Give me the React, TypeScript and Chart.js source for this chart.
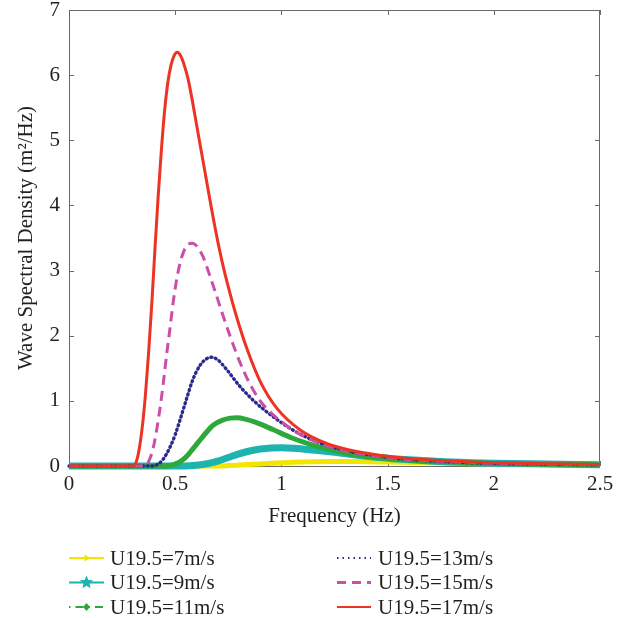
import React, { useEffect, useRef } from 'react';
import { Chart, registerables } from 'chart.js';

Chart.register(...registerables);

const FONT = '"Liberation Serif", "Times New Roman", serif';

// Frequency (Hz) / spectral density (m^2/Hz) readings for each wind speed
const f7 = [0, 0.68, 0.75, 0.85, 0.95, 1.05, 1.15, 1.25, 1.35, 1.5, 1.7, 1.9, 2.1, 2.3, 2.5];
const s7 = [0, 0, 0.006, 0.022, 0.042, 0.058, 0.067, 0.07, 0.068, 0.06, 0.048, 0.036, 0.027, 0.02, 0.015];

const f9 = [0, 0.55, 0.6, 0.65, 0.7, 0.75, 0.8, 0.85, 0.9, 0.95, 1.0, 1.06, 1.15, 1.25, 1.35, 1.46, 1.6, 1.8, 2.0, 2.25, 2.5];
const s9 = [0, 0, 0.012, 0.035, 0.075, 0.13, 0.185, 0.23, 0.26, 0.277, 0.28, 0.272, 0.245, 0.21, 0.17, 0.13, 0.095, 0.062, 0.042, 0.03, 0.02];

const f11 = [0, 0.46, 0.5, 0.53, 0.56, 0.59, 0.62, 0.65, 0.68, 0.72, 0.76, 0.79, 0.83, 0.88, 0.96, 1.05, 1.16, 1.3, 1.46, 1.6, 1.8, 2.0, 2.25, 2.5];
const s11 = [0, 0, 0.03, 0.08, 0.17, 0.29, 0.41, 0.53, 0.63, 0.7, 0.735, 0.74, 0.72, 0.67, 0.56, 0.43, 0.31, 0.2, 0.125, 0.09, 0.06, 0.04, 0.028, 0.02];

const f13 = [0, 0.39, 0.42, 0.44, 0.46, 0.48, 0.5, 0.52, 0.54, 0.56, 0.58, 0.6, 0.62, 0.645, 0.67, 0.7, 0.74, 0.8, 0.88, 0.96, 1.05, 1.16, 1.3, 1.46, 1.6, 1.8, 2.0, 2.25, 2.5];
const s13 = [0, 0, 0.03, 0.09, 0.19, 0.32, 0.48, 0.68, 0.89, 1.1, 1.3, 1.45, 1.56, 1.64, 1.67, 1.63, 1.49, 1.24, 0.97, 0.76, 0.56, 0.38, 0.24, 0.15, 0.1, 0.062, 0.04, 0.026, 0.018];

const f15 = [0, 0.355, 0.37, 0.385, 0.4, 0.415, 0.43, 0.445, 0.46, 0.475, 0.49, 0.51, 0.53, 0.55, 0.565, 0.58, 0.6, 0.63, 0.66, 0.69, 0.72, 0.76, 0.8, 0.85, 0.9, 0.95, 1.0, 1.08, 1.18, 1.3, 1.45, 1.6, 1.8, 2.0, 2.25, 2.5];
const s15 = [0, 0, 0.04, 0.15, 0.33, 0.6, 0.92, 1.3, 1.72, 2.1, 2.5, 2.92, 3.2, 3.36, 3.41, 3.42, 3.38, 3.22, 2.95, 2.66, 2.36, 1.98, 1.63, 1.27, 1.0, 0.82, 0.68, 0.5, 0.35, 0.235, 0.15, 0.1, 0.065, 0.043, 0.028, 0.019];

const f17 = [0, 0.3, 0.315, 0.33, 0.345, 0.36, 0.375, 0.39, 0.405, 0.42, 0.435, 0.45, 0.465, 0.48, 0.495, 0.51, 0.525, 0.54, 0.56, 0.58, 0.6, 0.63, 0.66, 0.69, 0.72, 0.75, 0.79, 0.84, 0.9, 0.98, 1.09, 1.21, 1.32, 1.46, 1.6, 1.8, 2.0, 2.25, 2.5];
const s17 = [0, 0, 0.05, 0.25, 0.6, 1.1, 1.75, 2.5, 3.35, 4.15, 4.85, 5.45, 5.88, 6.15, 6.3, 6.35, 6.3, 6.18, 5.95, 5.62, 5.25, 4.7, 4.15, 3.62, 3.15, 2.75, 2.28, 1.78, 1.3, 0.88, 0.55, 0.35, 0.245, 0.165, 0.115, 0.075, 0.05, 0.034, 0.024];

const labels = ['U19.5=7m/s', 'U19.5=9m/s', 'U19.5=11m/s', 'U19.5=13m/s', 'U19.5=15m/s', 'U19.5=17m/s'];
const xTicks = [0, 0.5, 1, 1.5, 2, 2.5];
const yTicks = [0, 1, 2, 3, 4, 5, 6, 7];
const xTitle = 'Frequency (Hz)';
const yTitle = 'Wave Spectral Density (m\u00B2/Hz)';

const YELLOW = '#F2E600';
const CYAN = '#1DB3AE';
const GREEN = '#2EA83A';
const BLUE = '#2B2A8C';
const PINK = '#C94FA8';
const RED = '#EC3324';
const AXIS = '#6a6a6a';
const TEXT = '#231F20';

const pts = (f: number[], s: number[]) => f.map((x, i) => ({ x, y: s[i] }));

const boxPlugin = {
  id: 'box',
  beforeDatasetsDraw(chart: any) {
    const { ctx, chartArea: a, scales } = chart;
    ctx.save();
    ctx.strokeStyle = AXIS;
    ctx.lineWidth = 1;
    ctx.strokeRect(a.left + 0.5, a.top + 0.5, a.right - a.left - 1, a.bottom - a.top);
    const L = 5;
    ctx.beginPath();
    xTicks.forEach((t) => {
      const x = Math.round(scales.x.getPixelForValue(t)) + 0.5;
      ctx.moveTo(x, a.bottom); ctx.lineTo(x, a.bottom - L);
      ctx.moveTo(x, a.top); ctx.lineTo(x, a.top + L);
    });
    yTicks.forEach((t) => {
      const y = Math.round(scales.y.getPixelForValue(t)) + 0.5;
      ctx.moveTo(a.left, y); ctx.lineTo(a.left + L, y);
      ctx.moveTo(a.right, y); ctx.lineTo(a.right - L, y);
    });
    ctx.stroke();
    ctx.restore();
  },
};

function star(ctx: CanvasRenderingContext2D, cx: number, cy: number, r: number) {
  ctx.beginPath();
  for (let i = 0; i < 10; i++) {
    const rr = i % 2 === 0 ? r : r * 0.45;
    const ang = -Math.PI / 2 + (i * Math.PI) / 5;
    const px = cx + rr * Math.cos(ang);
    const py = cy + rr * Math.sin(ang);
    if (i === 0) ctx.moveTo(px, py); else ctx.lineTo(px, py);
  }
  ctx.closePath();
  ctx.fill();
}

const legendPlugin = {
  id: 'customLegend',
  afterDraw(chart: any) {
    const ctx: CanvasRenderingContext2D = chart.ctx;
    const rowsY = [558, 582.5, 607];
    const cols = [{ x0: 69, x1: 104, tx: 110 }, { x0: 337, x1: 371, tx: 378 }];
    const styles = [
      { c: YELLOW, w: 2, dash: [] as number[], mk: 'arrow' },
      { c: CYAN, w: 2, dash: [] as number[], mk: 'star' },
      { c: GREEN, w: 2, dash: [1.5, 5, 8, 5], mk: 'diamond' },
      { c: BLUE, w: 2, dash: [1.5, 4], mk: '' },
      { c: PINK, w: 3, dash: [9, 6], mk: '' },
      { c: RED, w: 2, dash: [] as number[], mk: '' },
    ];
    ctx.save();
    styles.forEach((st, i) => {
      const col = cols[Math.floor(i / 3)];
      const y = rowsY[i % 3];
      ctx.strokeStyle = st.c;
      ctx.fillStyle = st.c;
      ctx.lineWidth = st.w;
      ctx.setLineDash(st.dash);
      ctx.beginPath();
      ctx.moveTo(col.x0, y);
      ctx.lineTo(col.x1, y);
      ctx.stroke();
      ctx.setLineDash([]);
      const cx = (col.x0 + col.x1) / 2;
      if (st.mk === 'star') star(ctx, cx, y, 7);
      if (st.mk === 'diamond') {
        ctx.beginPath();
        ctx.moveTo(cx, y - 4); ctx.lineTo(cx + 3.5, y); ctx.lineTo(cx, y + 4); ctx.lineTo(cx - 3.5, y);
        ctx.closePath(); ctx.fill();
      }
      if (st.mk === 'arrow') {
        ctx.beginPath();
        ctx.moveTo(cx + 4, y); ctx.lineTo(cx - 2, y - 3.5); ctx.lineTo(cx - 2, y + 3.5);
        ctx.closePath(); ctx.fill();
      }
      ctx.fillStyle = TEXT;
      ctx.font = `21px ${FONT}`;
      ctx.textBaseline = 'middle';
      ctx.textAlign = 'left';
      ctx.fillText(labels[i], col.tx, y + 1);
    });
    ctx.restore();
  },
};

export default function App() {
  const ref = useRef<HTMLCanvasElement | null>(null);
  useEffect(() => {
    if (!ref.current) return;
    const common = { pointRadius: 0, pointHoverRadius: 0, fill: false, clip: false, cubicInterpolationMode: 'monotone' as const };
    const chart = new Chart(ref.current, {
      type: 'line',
      data: {
        datasets: [
          { ...common, label: labels[0], data: pts(f7, s7), borderColor: YELLOW, backgroundColor: YELLOW, borderWidth: 5, order: 5 },
          { ...common, label: labels[1], data: pts(f9, s9), borderColor: CYAN, backgroundColor: CYAN, borderWidth: 7, order: 4 },
          { ...common, label: labels[2], data: pts(f11, s11), borderColor: GREEN, backgroundColor: GREEN, borderWidth: 5, order: 3 },
          { ...common, label: labels[3], data: pts(f13, s13), borderColor: BLUE, backgroundColor: BLUE, borderWidth: 3.4, borderDash: [1, 3.6], borderCapStyle: 'round', order: 2 },
          { ...common, label: labels[4], data: pts(f15, s15), borderColor: PINK, backgroundColor: PINK, borderWidth: 3, borderDash: [10, 6], order: 1 },
          { ...common, label: labels[5], data: pts(f17, s17), borderColor: RED, backgroundColor: RED, borderWidth: 3, order: 0 },
        ] as any,
      },
      options: {
        animation: false,
        responsive: false,
        maintainAspectRatio: false,
        events: [],
        layout: { padding: { left: 14, top: 10, right: 25, bottom: 89 } },
        plugins: { legend: { display: false }, tooltip: { enabled: false } },
        scales: {
          x: {
            type: 'linear',
            min: 0,
            max: 2.5,
            afterBuildTicks: (s: any) => { s.ticks = xTicks.map((v) => ({ value: v })); },
            afterFit: (s: any) => { s.height = 63; s.paddingLeft = 0; s.paddingRight = 0; },
            grid: { display: false, drawTicks: false },
            border: { display: false },
            ticks: { color: TEXT, font: { family: FONT, size: 21 }, padding: 6, maxRotation: 0, autoSkip: false, callback: (v: any) => String(v) },
            title: { display: true, text: xTitle, color: TEXT, font: { family: FONT, size: 21 }, padding: 0 },
          },
          y: {
            type: 'linear',
            min: 0,
            max: 7,
            afterBuildTicks: (s: any) => { s.ticks = yTicks.map((v) => ({ value: v })); },
            afterFit: (s: any) => { s.width = 55; s.paddingTop = 0; s.paddingBottom = 0; },
            grid: { display: false, drawTicks: false },
            border: { display: false },
            ticks: { color: TEXT, font: { family: FONT, size: 21 }, padding: 9, autoSkip: false, callback: (v: any) => String(v) },
            title: { display: true, text: yTitle, color: TEXT, font: { family: FONT, size: 21 }, padding: 0 },
          },
        },
      } as any,
      plugins: [boxPlugin, legendPlugin],
    });
    return () => chart.destroy();
  }, []);
  return (
    <div style={{ position: 'fixed', left: 0, top: 0, width: 625, height: 618, background: '#fff' }}>
      <canvas ref={ref} width={625} height={618} style={{ width: 625, height: 618, display: 'block' }} />
    </div>
  );
}
